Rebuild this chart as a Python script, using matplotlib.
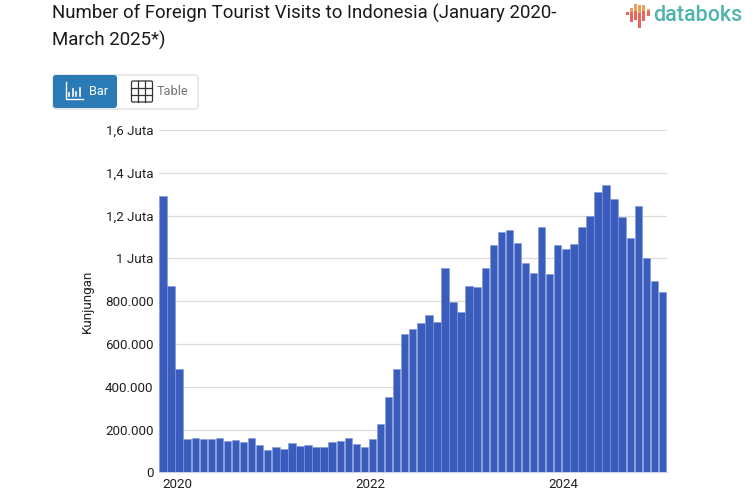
import matplotlib
matplotlib.use("Agg")
import matplotlib.pyplot as plt
from matplotlib.patches import FancyBboxPatch, Rectangle

plt.rcParams['font.family'] = ['Roboto', 'DejaVu Sans']

title_lines = ["Number of Foreign Tourist Visits to Indonesia (January 2020-", "March 2025*)"]
y_label = "Kunjungan"
year_labels = ["2020", "2022", "2024"]
year_positions = [1.75, 25.75, 49.75]
y_ticks = [0, 200000, 400000, 600000, 800000, 1000000, 1200000, 1400000, 1600000]
y_tick_labels = ["0", "200.000", "400.000", "600.000", "800.000", "1 Juta", "1,2 Juta", "1,4 Juta", "1,6 Juta"]
visits = [1293000, 873000, 485000, 156000, 159000, 156000, 154000, 159000, 148000, 151000,
          143000, 162000, 126000, 104000, 119000, 111000, 139000, 125000, 126000, 119000,
          119000, 143000, 148000, 162000, 134000, 117000, 156000, 228000, 352000, 483000,
          646000, 671000, 700000, 733000, 703000, 953000, 798000, 749000, 870000, 867000,
          953000, 1064000, 1123000, 1134000, 1071000, 978000, 933000, 1146000, 928000, 1064000,
          1042000, 1068000, 1146000, 1199000, 1312000, 1343000, 1279000, 1195000, 1093000, 1246000,
          1004000, 892000, 841000]

W, H = 753, 498
fig = plt.figure(figsize=(W / 100, H / 100), dpi=100, facecolor="white")

L, R, T, B = 159, 666.5, 130, 472.3
ax = fig.add_axes([L / W, 1 - B / H, (R - L) / W, (B - T) / H])
ax.bar(range(len(visits)), visits, width=0.92, color="#3a5dbd", edgecolor="#7f95d8", linewidth=0.4, zorder=3)
ax.set_xlim(-0.5, len(visits) - 0.5)
ax.set_ylim(0, 1600000)
ax.set_yticks(y_ticks, y_tick_labels)
ax.set_xticks(year_positions, year_labels)
ax.tick_params(axis="both", length=0, labelsize=9.6, labelcolor="#222222")
ax.tick_params(axis="y", pad=4)
ax.tick_params(axis="x", pad=4)
ax.grid(axis="y", color="#dddddd", linewidth=0.9, zorder=0)
ax.set_axisbelow(True)
for name, sp in ax.spines.items():
    sp.set_visible(name == "bottom")
ax.spines["bottom"].set_color("#c9d2ee")
ax.set_ylabel(y_label, fontsize=9.6, color="#222222")
ax.yaxis.set_label_coords((93.5 - L) / (R - L), 0.5)

# page overlay in pixel coordinates
ov = fig.add_axes([0, 0, 1, 1], facecolor="none")
ov.set_xlim(0, W)
ov.set_ylim(H, 0)
ov.axis("off")
ov.text(52, 13, title_lines[0], fontsize=13.4, color="#1a1a1a", va="center")
ov.text(52, 40, title_lines[1], fontsize=13.4, color="#1a1a1a", va="center")

# toggle buttons
ov.add_patch(FancyBboxPatch((53, 75), 145, 34, boxstyle="round,pad=0,rounding_size=3",
                            fc="white", ec="#dddddd", lw=0.9))
ov.add_patch(FancyBboxPatch((53, 75), 64, 33, boxstyle="round,pad=0,rounding_size=3",
                            fc="#2a7ab5", ec="none"))
ov.text(89, 91, "Bar", fontsize=9.2, color="white", va="center")
ov.text(157, 91, "Table", fontsize=9.2, color="#777777", va="center")
ov.plot([66, 66, 83], [82, 98.5, 98.5], color="white", lw=1)
for x, t in zip([69.5, 73, 76.5, 80], [93, 89, 92, 88]):
    ov.plot([x, x], [96, t], color="white", lw=1.2)
ov.add_patch(FancyBboxPatch((131.5, 81), 21, 21, boxstyle="round,pad=0,rounding_size=1.5",
                            fc="none", ec="#333333", lw=0.9))
for d in (7, 14):
    ov.plot([131.5 + d, 131.5 + d], [81, 102], color="#333333", lw=0.9)
    ov.plot([131.5, 152.5], [81 + d, 81 + d], color="#333333", lw=0.9)

# logo
for x, y0, ym, y1 in [(627.5, 12, 12, 15), (631.5, 8, 12, 22), (635.5, 4, 11, 20),
                      (639.5, 5, 13, 28), (643.5, 5, 11, 21), (648.5, 9, 11, 16)]:
    ov.add_patch(Rectangle((x - 1.1, y0), 2.2, ym - y0, fc="#eda05a", ec="none"))
    ov.add_patch(Rectangle((x - 1.1, ym), 2.2, y1 - ym, fc="#e8675a", ec="none"))
ov.text(653, 15, "databoks", fontsize=15.5, color="#4fb3ae", va="center", fontweight="medium")

fig.savefig("out.png", dpi=100)
